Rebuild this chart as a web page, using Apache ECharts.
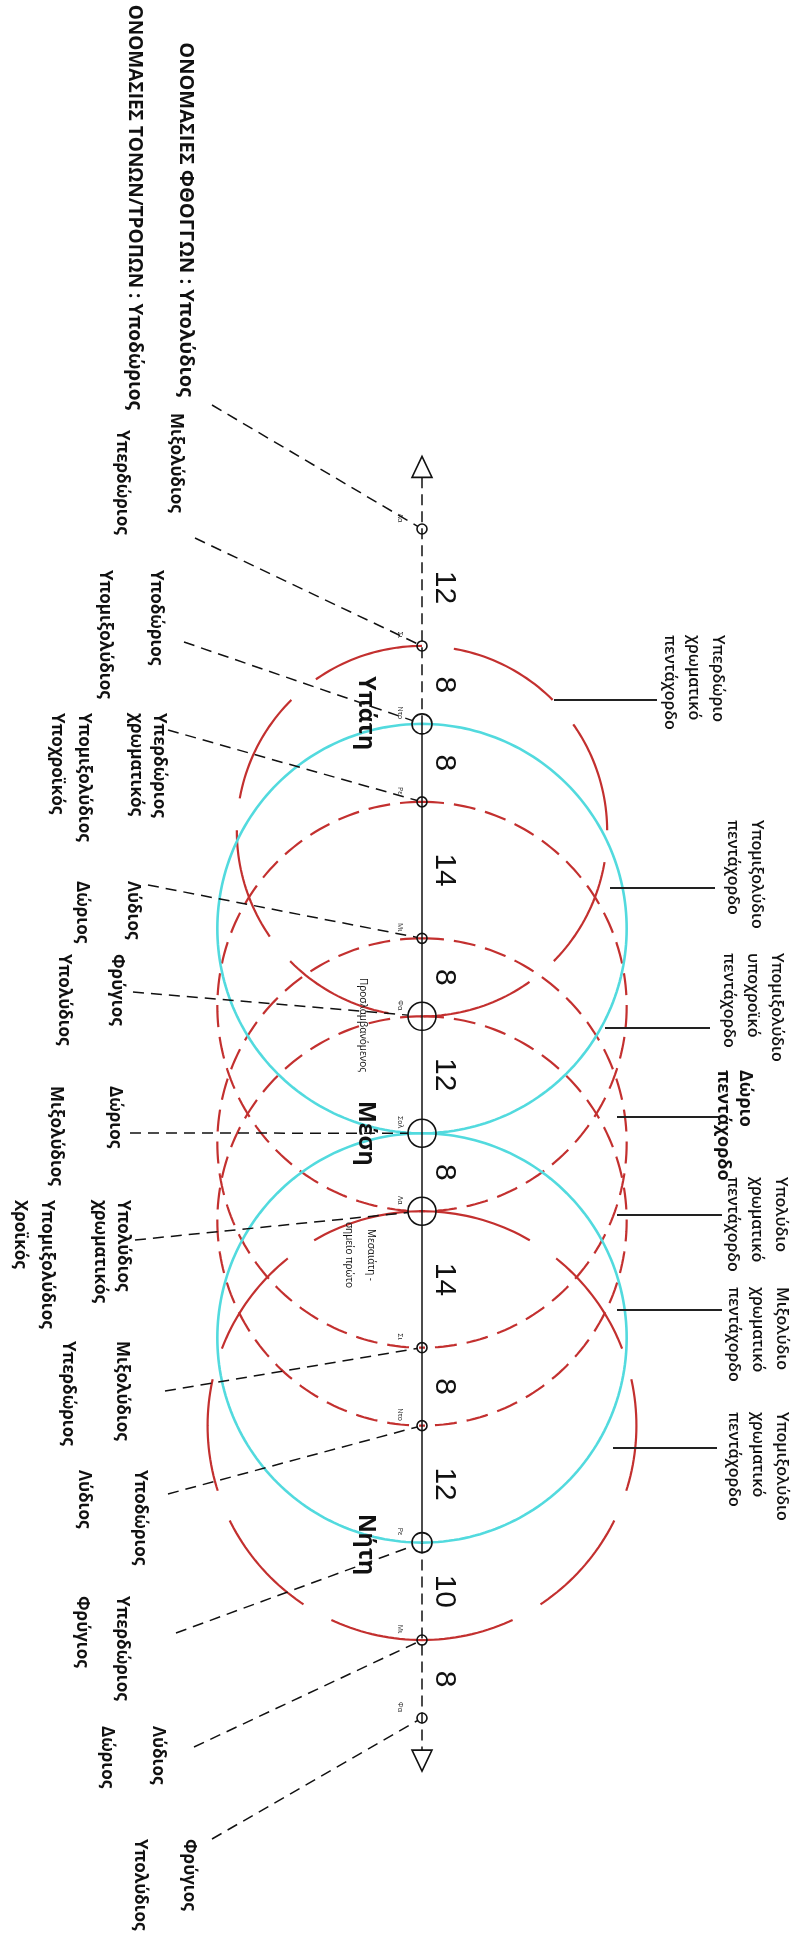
<!DOCTYPE html>
<html>
<head>
<meta charset="utf-8">
<script src="https://cdn.jsdelivr.net/npm/echarts@6/dist/echarts.min.js"></script>
<style>
  html, body { margin: 0; padding: 0; background: #fff; }
  #chart { width: 800px; height: 1946px; }
</style>
</head>
<body>
<div id="chart"></div>
<script>
// intervals between successive notes, top to bottom
const intervals = [12, 8, 8, 14, 8, 12, 8, 14, 8, 12, 10, 8];
// small syllable at every note
const syllables = ['Λα', 'Σι', 'Ντο', 'Ρε', 'Μι', 'Φα', 'Σολ', 'Λα', 'Σι', 'Ντο', 'Ρε', 'Μι', 'Φα'];
// fixed notes of the system (note index, name)
const fixedNotes = [[2, 'Υπάτη'], [6, 'Μέση'], [10, 'Νήτη']];
// names of the notes (φθόγγοι) and of the tones / modes
const noteNames = ['Υπολύδιος', 'Μιξολύδιος', 'Υποδώριος', 'Υπερδώριος\nχρωματικός', 'Λύδιος', 'Φρύγιος',
  'Δώριος', 'Υπολύδιος\nχρωματικός', 'Μιξολύδιος', 'Υποδώριος', 'Υπερδώριος', 'Λύδιος', 'Φρύγιος'];
const modeNames = ['Υποδώριος', 'Υπερδώριος', 'Υπομιξολύδιος', 'Υπομιξολύδιος\nΥποχροϊκός', 'Δώριος', 'Υπολύδιος',
  'Μιξολύδιος', 'Υπομιξολύδιος\nΧροϊκός', 'Υπερδώριος', 'Λύδιος', 'Φρύγιος', 'Δώριος', 'Υπολύδιος'];
const noteTitle = 'ΟΝΟΜΑΣΙΕΣ ΦΘΟΓΓΩΝ : ';
const modeTitle = 'ΟΝΟΜΑΣΙΕΣ ΤΟΝΩΝ/ΤΡΟΠΩΝ : ';
// pentachord circles: [first note, last note]
const cyanCircles = [[2, 6], [6, 10]];
const dashedCircles = [[3, 7], [4, 8], [5, 9]];
const brokenCircles = [[1, 5], [7, 11]];
const pentachords = ['Υπερδώριο\nχρωματικό\nπεντάχορδο', 'Υπομιξολύδιο\nπεντάχορδο', 'Υπομιξολύδιο\nυποχροϊκό\nπεντάχορδο',
  'Δώριο\nπεντάχορδο', 'Υπολύδιο\nχρωματικό\nπεντάχορδο', 'Μιξολύδιο\nχρωματικό\nπεντάχορδο', 'Υπομιξολύδιο\nχρωματικό\nπεντάχορδο'];
const notes = [[5, 'Προσλαμβανόμενος'], [7, 'Μεσαιάτη -\nσημείο πρώτο']];

// ---- layout ----
const UNIT = 9.746;          // px per interval unit
const AXIS_X = 422;          // px of the axis line
const FIRST_Y = 529;         // px of the first note
const W = 800, H = 1946;
const AXIS_ENDS = [-5.3, 125.3];
const RED = '#c3302f';
const CYAN = '#52dade';
const FONT = '"Open Sans", "DejaVu Sans", sans-serif';
// [noteX, modeX, note top y, mode top y, leader start x, leader start y]
const leftLayout = [
  [186, 134, 397, 410, 212, 405],
  [176, 122, 413, 430, 195, 538],
  [156, 105, 570, 570, 184, 642],
  [147, 70, 713, 713, 168, 730],
  [133, 82, 881, 881, 148, 885],
  [117, 64, 954, 954, 133, 992],
  [115, 56, 1086, 1086, 130, 1133],
  [111, 33, 1200, 1200, 135, 1240],
  [122, 68, 1341, 1341, 165, 1391],
  [140, 84, 1470, 1470, 168, 1494],
  [122, 82, 1596, 1596, 176, 1633],
  [158, 107, 1726, 1726, 194, 1747],
  [189, 140, 1839, 1839, 212, 1839]
];
// [text centre x, top y, leader y, leader x0, leader x1]
const rightLayout = [
  [694, 635, 700, 554, 657],
  [745, 820, 888, 610, 715],
  [753, 953, 1028, 605, 710],
  [734, 1070, 1117, 617, 720],
  [757, 1177, 1215, 617, 722],
  [758, 1287, 1310, 617, 722],
  [758, 1412, 1448, 613, 717]
];
const fixedShift = [-1.1, 0, 0.2];
const noteLayout = [[363, 1025], [360, 1255]];

const pos = [0];
intervals.forEach(v => pos.push(pos[pos.length - 1] + v));

const ROT = -Math.PI / 2;
function rtext(x, y, text, style) {
  return {
    type: 'text', x: x, y: y, rotation: ROT,
    style: Object.assign({ text: text, fill: '#111', font: 'bold 17px ' + FONT, align: 'left', verticalAlign: 'middle' }, style)
  };
}

function circleItem(kind) {
  return function (params, api) {
    const a = api.value(0), b = api.value(1);
    const c = (pos[a] + pos[b]) / 2, r = (pos[b] - pos[a]) / 2;
    const children = [-1, 1].map(side => {
      const pts = [];
      for (let i = 0; i <= 120; i++) {
        const t = Math.PI * i / 120;
        pts.push(api.coord([side * r * Math.sin(t), c - r * Math.cos(t)]));
      }
      const st = { fill: null, stroke: kind === 'cyan' ? CYAN : RED, lineWidth: kind === 'cyan' ? 2.6 : 2.2 };
      if (kind === 'dashed') { st.lineDash = [22, 10]; }
      if (kind === 'broken') { st.lineDash = [113, 32]; st.lineDashOffset = side > 0 && a === 1 ? 113 : 0; }
      return { type: 'polyline', shape: { points: pts }, style: st };
    });
    return { type: 'group', children: children };
  };
}

function renderAxis(params, api) {
  const p = u => api.coord([0, u]);
  const top = p(AXIS_ENDS[0]), bot = p(AXIS_ENDS[1]);
  const a = p(pos[2]), b = p(pos[10]);
  const line = (p1, p2, dash) => ({
    type: 'line', shape: { x1: p1[0], y1: p1[1], x2: p2[0], y2: p2[1] },
    style: { stroke: '#111', lineWidth: 1.5, lineDash: dash }
  });
  const tri = (base, dir) => ({
    type: 'polygon',
    shape: { points: [[base[0] - 10, base[1]], [base[0] + 10, base[1]], [base[0], base[1] + dir * 21]] },
    style: { fill: null, stroke: '#111', lineWidth: 1.6 }
  });
  return {
    type: 'group', children: [
      line(top, a, [11, 6]), line(a, b, null), line(b, bot, [11, 6]),
      tri(top, -1), tri(bot, 1)
    ]
  };
}

function nodeRadius(i) {
  return [5, 6, 7].indexOf(i) >= 0 ? 14 : [2, 10].indexOf(i) >= 0 ? 10 : 5;
}

function renderNode(params, api) {
  const i = api.value(0);
  const pt = api.coord([0, pos[i]]);
  return {
    type: 'group', children: [
      { type: 'circle', shape: { cx: pt[0], cy: pt[1], r: nodeRadius(i) }, style: { fill: null, stroke: '#111', lineWidth: 1.6 } },
      rtext(pt[0] - 22, pt[1] - 11, syllables[i], { font: '7px ' + FONT, align: 'center', fill: '#222' })
    ]
  };
}

function renderInterval(params, api) {
  const i = api.value(0);
  const pt = api.coord([2.26, (pos[i] + pos[i + 1]) / 2]);
  return rtext(pt[0], pt[1], String(intervals[i]), { font: '30px "Liberation Sans", Arial, sans-serif', align: 'center' });
}

function renderFixed(params, api) {
  const i = api.value(0);
  const pt = api.coord([-5.8, pos[i] + fixedShift[params.dataIndex]]);
  return rtext(pt[0], pt[1], fixedNotes[params.dataIndex][1], { font: 'bold 23px ' + FONT, align: 'center' });
}

function renderLeft(params, api) {
  const i = api.value(0);
  const L = leftLayout[i];
  const node = api.coord([0, pos[i]]);
  const r = nodeRadius(i);
  const dx = node[0] - L[4], dy = node[1] - L[5], len = Math.sqrt(dx * dx + dy * dy);
  const children = [{
    type: 'line',
    shape: { x1: L[4], y1: L[5], x2: node[0] - dx / len * r, y2: node[1] - dy / len * r },
    style: { stroke: '#111', lineWidth: 1.5, lineDash: [11, 7] }
  }];
  if (i === 0) {
    // the first note carries the column titles; they end at the given y
    children.push(rtext(L[0], L[2], noteTitle + noteNames[i], { align: 'right', font: 'bold 20px ' + FONT }));
    children.push(rtext(L[1], L[3], modeTitle + modeNames[i], { align: 'right', font: 'bold 19px ' + FONT }));
  } else {
    children.push(rtext(L[0], L[2], noteNames[i], { lineHeight: 23 }));
    children.push(rtext(L[1], L[3], modeNames[i], { lineHeight: 27 }));
  }
  return { type: 'group', children: children };
}

function renderRight(params, api) {
  const i = params.dataIndex;
  const L = rightLayout[i];
  const big = i === 3;
  return {
    type: 'group', children: [
      { type: 'line', shape: { x1: L[3], y1: L[2], x2: L[4], y2: L[2] }, style: { stroke: '#222', lineWidth: 1.8 } },
      rtext(L[0], L[1], pentachords[i], big
        ? { font: 'bold 18px ' + FONT, lineHeight: 22 }
        : { font: '600 16px ' + FONT, lineHeight: 24 })
    ]
  };
}

function renderNote(params, api) {
  const i = params.dataIndex;
  const L = noteLayout[i];
  return rtext(L[0], L[1], notes[i][1], { font: '10px ' + FONT, align: 'center', lineHeight: 22 });
}

const base = { type: 'custom', coordinateSystem: 'cartesian2d', silent: true, animation: false };
const option = {
  animation: false,
  backgroundColor: '#fff',
  grid: { left: 0, right: 0, top: 0, bottom: 0 },
  xAxis: { type: 'value', min: -AXIS_X / UNIT, max: (W - AXIS_X) / UNIT, show: false },
  yAxis: { type: 'value', inverse: true, min: -FIRST_Y / UNIT, max: (H - FIRST_Y) / UNIT, show: false },
  series: [
    Object.assign({}, base, { name: 'broken', data: brokenCircles, renderItem: circleItem('broken'), z: 2 }),
    Object.assign({}, base, { name: 'dashed', data: dashedCircles, renderItem: circleItem('dashed'), z: 2 }),
    Object.assign({}, base, { name: 'cyan', data: cyanCircles, renderItem: circleItem('cyan'), z: 3 }),
    Object.assign({}, base, { name: 'axis', data: [[0, 0]], renderItem: renderAxis, z: 4 }),
    Object.assign({}, base, { name: 'nodes', data: syllables.map((s, i) => [i, 0]), renderItem: renderNode, z: 5 }),
    Object.assign({}, base, { name: 'intervals', data: intervals.map((v, i) => [i, v]), renderItem: renderInterval, z: 5 }),
    Object.assign({}, base, { name: 'fixed', data: fixedNotes.map(f => [f[0], 0]), renderItem: renderFixed, z: 5 }),
    Object.assign({}, base, { name: 'names', data: noteNames.map((n, i) => [i, 0]), renderItem: renderLeft, z: 5 }),
    Object.assign({}, base, { name: 'pentachords', data: pentachords.map((p, i) => [i, 0]), renderItem: renderRight, z: 5 }),
    Object.assign({}, base, { name: 'notes', data: notes.map(n => [n[0], 0]), renderItem: renderNote, z: 5 })
  ]
};
echarts.init(document.getElementById('chart')).setOption(option);
</script>
</body>
</html>
